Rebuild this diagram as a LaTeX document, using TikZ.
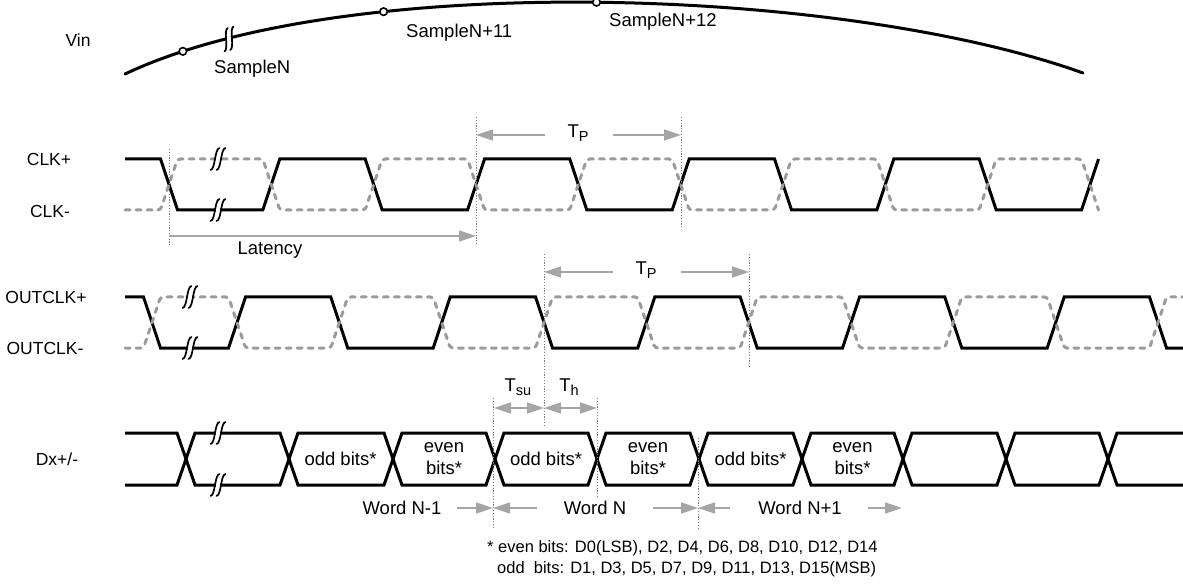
\documentclass[tikz,border=0pt]{standalone}
\usepackage{fontspec}
\setmainfont{Liberation Sans}
\usetikzlibrary{arrows.meta}
\definecolor{sgray}{RGB}{155,155,155}
\definecolor{agray}{RGB}{165,165,165}
\definecolor{dgray}{RGB}{125,125,125}
\tikzset{
  sig/.style={line width=3pt, black},
  sigd/.style={line width=3pt, sgray, dash pattern=on 5pt off 6pt, line cap=round, rounded corners=3pt},
  dotv/.style={dgray, line width=0.8pt, dash pattern=on 1.2pt off 1.6pt},
  garr/.style={agray, line width=1.6pt, -{Triangle[length=17pt,width=11pt]}},
  garrb/.style={agray, line width=1.6pt, {Triangle[length=17pt,width=11pt]}-{Triangle[length=17pt,width=11pt]}},
  lbl/.style={font=\fontsize{18.5}{22}\selectfont, inner sep=0pt},
  side/.style={font=\fontsize{17.5}{21}\selectfont, inner sep=0pt},
  fnote/.style={font=\fontsize{16.5}{20}\selectfont, inner sep=0pt, anchor=west},
  circ/.style={circle, draw=black, fill=white, line width=1.6pt, inner sep=0pt, minimum size=7.5pt},
  brk/.pic={
    \fill[white] (-2.2,-3.6) rectangle (2.2,3.6);
    \draw[black, line width=1.7pt, line cap=round] (-7.5,11) .. controls (-2.5,10.5) and (-3.5,-10.5) .. (1.5,-11);
    \draw[black, line width=1.7pt, line cap=round] (-1.5,11) .. controls (3.5,10.5) and (2.5,-10.5) .. (7.5,-11);
  }
}
\newcommand{\sbs}[1]{\raisebox{-0.45ex}{\fontsize{14.5}{16}\selectfont #1}}
\begin{document}
\begin{tikzpicture}[x=1pt,y=-1pt]
\useasboundingbox (0,0) rectangle (1183,585);

% ---------------- Vin ----------------
\coordinate (v0) at (125,74);
\coordinate (v1) at (1083,73);
\draw[sig, line cap=round] (v0) .. controls (345,-30) and (843,-13) .. (v1)
  node[circ, pos=0.08] (s1) {}
  node[circ, pos=0.30] (s2) {}
  node[circ, pos=0.50] (s3) {};
\path (229,39) pic[rotate=14] {brk};
\node[side] (lvin) at (78,40) {Vin};
\node[lbl, anchor=west] (ls1) at (214,69) {SampleN};
\node[lbl, anchor=west] (ls2) at (406,33) {SampleN+11};
\node[lbl, anchor=west] (ls3) at (609,22) {SampleN+12};

% ---------------- CLK ----------------
\draw[sig] (125,159) -- (160.5,159) -- (177.5,210) -- (262.8,210) -- (279.8,159) -- (365.2,159) -- (382.2,210)
  -- (467.5,210) -- (484.5,159) -- (569.8,159) -- (586.8,210) -- (672.2,210) -- (689.2,159) -- (774.5,159)
  -- (791.5,210) -- (876.8,210) -- (893.8,159) -- (979.2,159) -- (996.2,210) -- (1081.5,210) -- (1098.5,159);
\draw[sigd] (125,210) -- (160.5,210) -- (177.5,159) -- (262.8,159) -- (279.8,210) -- (365.2,210) -- (382.2,159)
  -- (467.5,159) -- (484.5,210) -- (569.8,210) -- (586.8,159) -- (672.2,159) -- (689.2,210) -- (774.5,210)
  -- (791.5,159) -- (876.8,159) -- (893.8,210) -- (979.2,210) -- (996.2,159) -- (1081.5,159) -- (1098.5,210);
\path (218,159) pic {brk};
\path (218,210) pic {brk};
\node[side] (lclkp) at (49,159) {CLK+};
\node[side] (lclkm) at (50,211) {CLK-};

% ---------------- OUTCLK ----------------
\draw[sig] (125,297) -- (143.5,297) -- (160.5,348) -- (228.5,348) -- (245.5,297) -- (330.8,297) -- (347.8,348)
  -- (433.2,348) -- (450.2,297) -- (535.5,297) -- (552.5,348) -- (637.8,348) -- (654.8,297) -- (740.2,297)
  -- (757.2,348) -- (842.5,348) -- (859.5,297) -- (944.8,297) -- (961.8,348) -- (1047.2,348) -- (1064.2,297)
  -- (1149.5,297) -- (1166.5,348) -- (1185,348);
\draw[sigd] (125,348) -- (143.5,348) -- (160.5,297) -- (228.5,297) -- (245.5,348) -- (330.8,348) -- (347.8,297)
  -- (433.2,297) -- (450.2,348) -- (535.5,348) -- (552.5,297) -- (637.8,297) -- (654.8,348) -- (740.2,348)
  -- (757.2,297) -- (842.5,297) -- (859.5,348) -- (944.8,348) -- (961.8,297) -- (1047.2,297) -- (1064.2,348)
  -- (1149.5,348) -- (1166.5,297) -- (1185,297);
\path (190,297) pic {brk};
\path (190,348) pic {brk};
\node[side] (loutp) at (46,297) {OUTCLK+};
\node[side] (loutm) at (45,348) {OUTCLK-};

% ---------------- Dx ----------------
\draw[sig] (125,433) -- (177,433) -- (195,485) -- (280,485) -- (298,433) -- (384,433) -- (402,485) -- (486,485)
  -- (504,433) -- (588,433) -- (606,485) -- (690,485) -- (708,433) -- (793,433) -- (811,485) -- (894,485)
  -- (912,433) -- (997,433) -- (1015,485) -- (1099,485) -- (1117,433) -- (1185,433);
\draw[sig] (125,485) -- (177,485) -- (195,433) -- (280,433) -- (298,485) -- (384,485) -- (402,433) -- (486,433)
  -- (504,485) -- (588,485) -- (606,433) -- (690,433) -- (708,485) -- (793,485) -- (811,433) -- (894,433)
  -- (912,485) -- (997,485) -- (1015,433) -- (1099,433) -- (1117,485) -- (1185,485);
\path (218,433) pic {brk};
\path (218,485) pic {brk};
\node[side] (ldx) at (57,459) {Dx+/-};
\node[lbl] (o1) at (340.5,459) {odd bits*};
\node[lbl, align=center] (e1) at (444,459) {even\\bits*};
\node[lbl] (o2) at (546,459) {odd bits*};
\node[lbl, align=center] (e2) at (648,459) {even\\bits*};
\node[lbl] (o3) at (750.5,459) {odd bits*};
\node[lbl, align=center] (e3) at (852.5,459) {even\\bits*};

% ---------------- dotted guides ----------------
\coordinate (g1t) at (169,149);  \coordinate (g1b) at (169,245);
\coordinate (g2t) at (476,117);  \coordinate (g2b) at (476,245);
\coordinate (g3t) at (681,117);  \coordinate (g3b) at (681,228);
\coordinate (g4t) at (544,254);  \coordinate (g4b) at (544,425);
\coordinate (g5t) at (749,254);  \coordinate (g5b) at (749,368);
\coordinate (g6t) at (493,398);  \coordinate (g6b) at (493,528);
\coordinate (g7t) at (597,398);  \coordinate (g7b) at (597,497);
\coordinate (g8t) at (698,438);  \coordinate (g8b) at (698,528);
\foreach \a/\b in {g1t/g1b,g2t/g2b,g3t/g3b,g4t/g4b,g5t/g5b,g6t/g6b,g7t/g7b,g8t/g8b}
  \draw[dotv] (\a) -- (\b);

% ---------------- arrows ----------------
\coordinate (la0) at (169,236); \coordinate (la1) at (476,236);
\draw[garr] (la0) -- (la1);
\node[lbl] (llat) at (270,250) {Latency};

\coordinate (tp1a) at (545,135); \coordinate (tp1b) at (476,135);
\coordinate (tp1c) at (613,135); \coordinate (tp1d) at (681,135);
\draw[garr] (tp1a) -- (tp1b);
\draw[garr] (tp1c) -- (tp1d);
\node[lbl] (ltp1) at (578,133) {T\sbs{P}};

\coordinate (tp2a) at (613,272); \coordinate (tp2b) at (544,272);
\coordinate (tp2c) at (681,272); \coordinate (tp2d) at (749,272);
\draw[garr] (tp2a) -- (tp2b);
\draw[garr] (tp2c) -- (tp2d);
\node[lbl] (ltp2) at (646,270) {T\sbs{P}};

\coordinate (su0) at (494,408); \coordinate (su1) at (544,408); \coordinate (h1) at (597,408);
\draw[garrb] (su0) -- (su1);
\draw[garrb] (su1) -- (h1);
\node[lbl] (ltsu) at (518,387) {T\sbs{su}};
\node[lbl] (lth) at (569,387) {T\sbs{h}};

\coordinate (w1a) at (457,508); \coordinate (w1b) at (493,508);
\coordinate (w2a) at (537,508); \coordinate (w2b) at (653,508); \coordinate (w2c) at (698,508);
\coordinate (w3a) at (730,508); \coordinate (w3b) at (868,508); \coordinate (w3c) at (902,508);
\draw[garr] (w1a) -- (w1b);
\draw[garr] (w2a) -- (w1b);
\draw[garr] (w2b) -- (w2c);
\draw[garr] (w3a) -- (w2c);
\draw[garr] (w3b) -- (w3c);
\node[lbl] (lw1) at (402,508) {Word N-1};
\node[lbl] (lw2) at (595,508) {Word N};
\node[lbl] (lw3) at (800,508) {Word N+1};

% ---------------- footnote ----------------
\node[fnote] (fn1) at (487,548) {* even bits: D0(LSB), D2, D4, D6, D8, D10, D12, D14};
\node[fnote] (fn2) at (497,569) {odd\ \ bits: D1, D3, D5, D7, D9, D11, D13, D15(MSB)};
\end{tikzpicture}
\end{document}
